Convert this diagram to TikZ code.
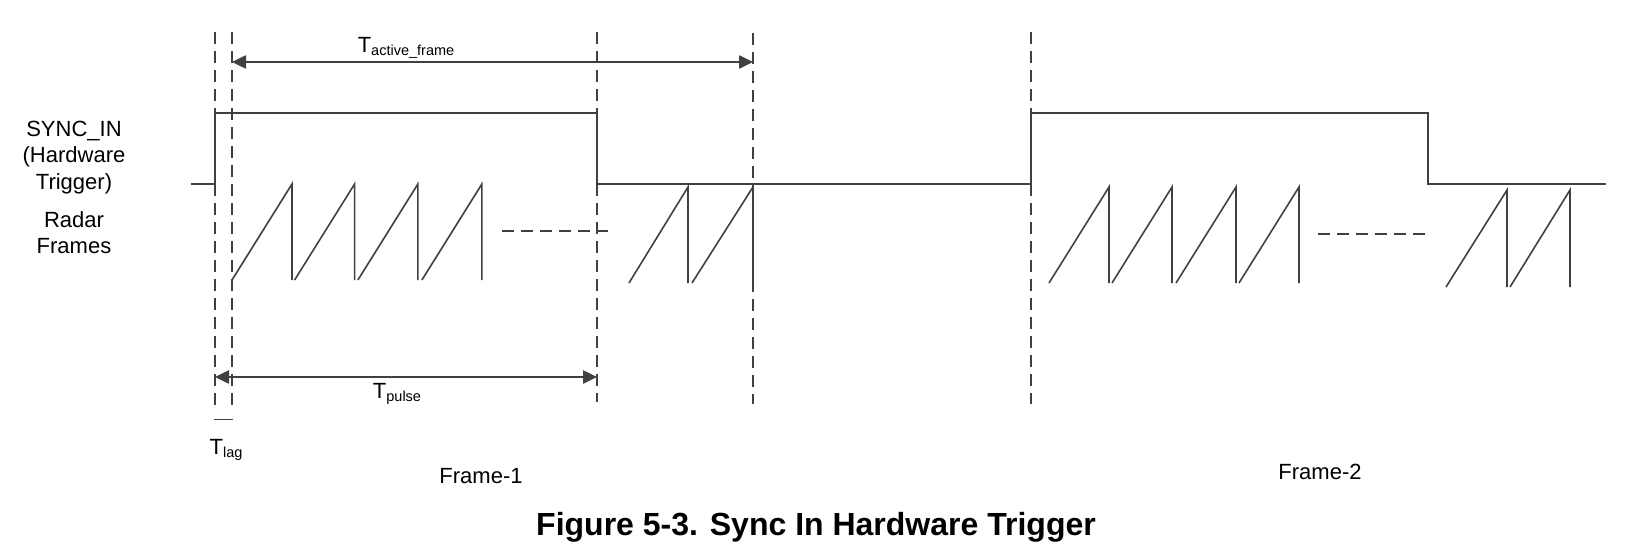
\documentclass[tikz,border=0pt]{standalone}
\usepackage{fontspec}
\setmainfont{Liberation Sans}
\usetikzlibrary{arrows.meta}
\definecolor{ln}{HTML}{404040}
\newcommand\tsub[1]{\raisebox{-3pt}{\fontsize{14.5}{15}\selectfont #1}}
\begin{document}
\begin{tikzpicture}[x=1pt,y=-1pt,
  sig/.style={draw=ln,line width=2.5pt},
  guide/.style={draw=ln,line width=2pt,dash pattern=on 12pt off 7pt},
  saw/.style={draw=ln,line width=1.6pt},
  dim/.style={draw=ln,line width=2.5pt,{Triangle[length=14pt,width=13pt]}-{Triangle[length=14pt,width=13pt]}},
  lbl/.style={inner sep=0pt,anchor=base,font=\fontsize{22}{26}\selectfont},
  captxt/.style={inner sep=0pt,anchor=base,font=\fontsize{32}{36}\selectfont\bfseries}]
\useasboundingbox (0,0) rectangle (1639,554);
% guide coordinates
\coordinate (g1t) at (215,32);  \coordinate (g1b) at (215,408);
\coordinate (g2t) at (232,32);  \coordinate (g2b) at (232,408);
\coordinate (g3t) at (597,32);  \coordinate (g3b) at (597,402);
\coordinate (g4t) at (753,33);  \coordinate (g4b) at (753,404);
\coordinate (g5t) at (1031,32); \coordinate (g5b) at (1031,404);
\draw[guide] (g1t) -- (g1b);
\draw[guide] (g2t) -- (g2b);
\draw[guide] (g3t) -- (g3b);
\draw[guide] (g4t) -- (g4b);
\draw[guide] (g5t) -- (g5b);
% SYNC_IN signal
\draw[sig] (191,184) -- (215,184) -- (215,113) -- (597,113) -- (597,184) -- (1031,184)
  -- (1031,113) -- (1428,113) -- (1428,184) -- (1606,184);
% radar frames (saw teeth)
\foreach \s in {232,294.6,357.9,421.9}
  \draw[saw] (\s,280) -- ++(60,-96) -- ++(0,96);
\draw[guide] (502,231) -- (608,231);
\draw[saw] (629,283) -- (688,187) -- (688,283);
\draw[saw] (692,283) -- (753,187) -- (753,283);
\foreach \s in {1049,1112,1176,1239}
  \draw[saw] (\s,283) -- ++(60,-96) -- ++(0,96);
\draw[guide] (1318,234) -- (1426,234);
\draw[saw] (1446,287) -- (1507,190) -- (1507,287);
\draw[saw] (1510,287) -- (1570,190) -- (1570,287);
% dimension arrows
\coordinate (ta) at (232,62); \coordinate (tb) at (753,62);
\draw[dim] (ta) -- (tb);
\coordinate (pa) at (215,377); \coordinate (pb) at (597,377);
\draw[dim] (pa) -- (pb);
\coordinate (la) at (214,419); \coordinate (lb) at (233,419);
\draw[draw=ln,line width=1pt] (la) -- (lb);
% labels
\node[lbl] (tact) at (406,52) {T\tsub{active\_frame}};
\node[lbl] (tpul) at (397,398) {T\tsub{pulse}};
\node[lbl] (tlag) at (226,454) {T\tsub{lag}};
\node[lbl] (f1) at (481,483) {Frame-1};
\node[lbl] (f2) at (1320,479) {Frame-2};
\node[lbl] (sync) at (74,136) {SYNC\_IN};
\node[lbl] (hw) at (74,162) {(Hardware};
\node[lbl] (trig) at (74,189) {Trigger)};
\node[lbl] (radar) at (74,227) {Radar};
\node[lbl] (frames) at (74,253) {Frames};
\node[captxt] (caption) at (816,535) {Figure 5-3. Sync In Hardware Trigger};
\end{tikzpicture}
\end{document}
